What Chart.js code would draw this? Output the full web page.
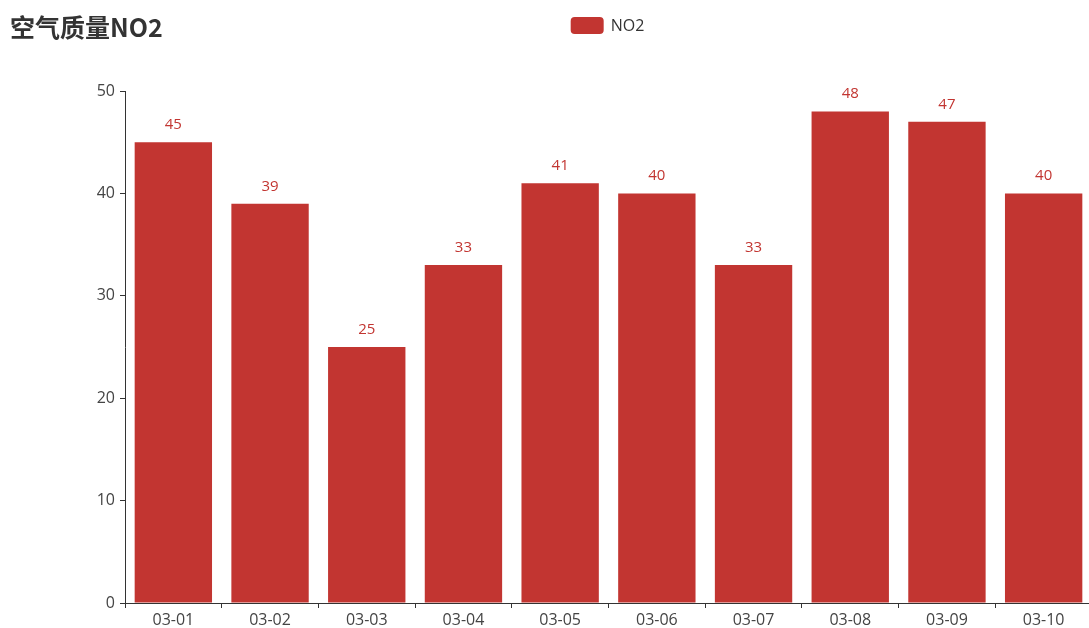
<!DOCTYPE html>
<html>
<head>
<meta charset="utf-8">
<script src="https://cdn.jsdelivr.net/npm/chart.js@4/dist/chart.umd.min.js"></script>
<style>
html,body{margin:0;padding:0;background:#fff;overflow:hidden;width:1089px;height:628px;}
#wrap{position:absolute;left:0;top:0;width:1215px;height:628px;}
</style>
</head>
<body>
<div id="wrap"><canvas id="c" width="1215" height="628"></canvas></div>
<script>
const titleText = "空气质量NO2";
const seriesName = "NO2";
const categories = ["03-01","03-02","03-03","03-04","03-05","03-06","03-07","03-08","03-09","03-10"];
const no2Values = [45,39,25,33,41,40,33,48,47,40];
const yTicks = [0,10,20,30,40,50];

const barColor = "#c23531";
const fontFam = "'Open Sans','Noto Sans CJK SC',sans-serif";
const titleFam = "'Noto Sans CJK SC','Noto Sans',sans-serif";

const overlay = {
  id: 'overlay',
  afterDatasetsDraw(chart) {
    const ctx = chart.ctx;
    const meta = chart.getDatasetMeta(0);
    ctx.save();
    ctx.fillStyle = barColor;
    ctx.font = "15px " + fontFam;
    ctx.textAlign = "center";
    ctx.textBaseline = "alphabetic";
    meta.data.forEach((bar, i) => {
      ctx.fillText(String(no2Values[i]), bar.x, bar.y - 13);
    });
    ctx.restore();
  },
  afterDraw(chart) {
    const ctx = chart.ctx;
    ctx.save();
    // title
    ctx.fillStyle = "#333";
    ctx.font = "bold 25px " + titleFam;
    ctx.textAlign = "left";
    ctx.textBaseline = "middle";
    ctx.fillText(titleText, 10, 27);
    // legend
    ctx.font = "16px " + fontFam;
    const tw = ctx.measureText(seriesName).width;
    const bw = 33, bh = 17, gap = 7;
    const total = bw + gap + tw;
    const x0 = chart.width / 2 - total / 2;
    ctx.fillStyle = barColor;
    ctx.beginPath();
    ctx.roundRect(x0, 17, bw, bh, 4);
    ctx.fill();
    ctx.fillStyle = "#333";
    ctx.fillText(seriesName, x0 + bw + gap, 26);
    ctx.restore();
  }
};

new Chart(document.getElementById('c'), {
  type: 'bar',
  data: {
    labels: categories,
    datasets: [{
      label: seriesName,
      data: no2Values,
      backgroundColor: barColor,
      borderWidth: 0,
      barPercentage: 0.8,
      categoryPercentage: 1.0
    }]
  },
  options: {
    responsive: false,
    animation: false,
    devicePixelRatio: 1,
    layout: { padding: { top: 91, left: 0, right: 123, bottom: 0 } },
    plugins: { legend: { display: false }, title: { display: false }, tooltip: { enabled: false } },
    scales: {
      x: {
        offset: true,
        grid: { offset: true, drawOnChartArea: false, drawTicks: true, tickLength: 5, color: '#333' },
        border: { display: true, color: '#333', width: 1 },
        ticks: { color: '#444', font: { size: 16, family: fontFam }, padding: 3, maxRotation: 0, autoSkip: false },
        afterFit(s) { s.height = 25; }
      },
      y: {
        min: 0, max: 50,
        afterBuildTicks(s) { s.ticks = yTicks.map(v => ({ value: v })); },
        grid: { drawOnChartArea: false, drawTicks: true, tickLength: 5, color: '#333' },
        border: { display: true, color: '#333', width: 1 },
        ticks: { color: '#444', font: { size: 16, family: fontFam }, padding: 5 },
        afterFit(s) { s.width = 125; }
      }
    }
  },
  plugins: [overlay]
});
</script>
</body>
</html>
